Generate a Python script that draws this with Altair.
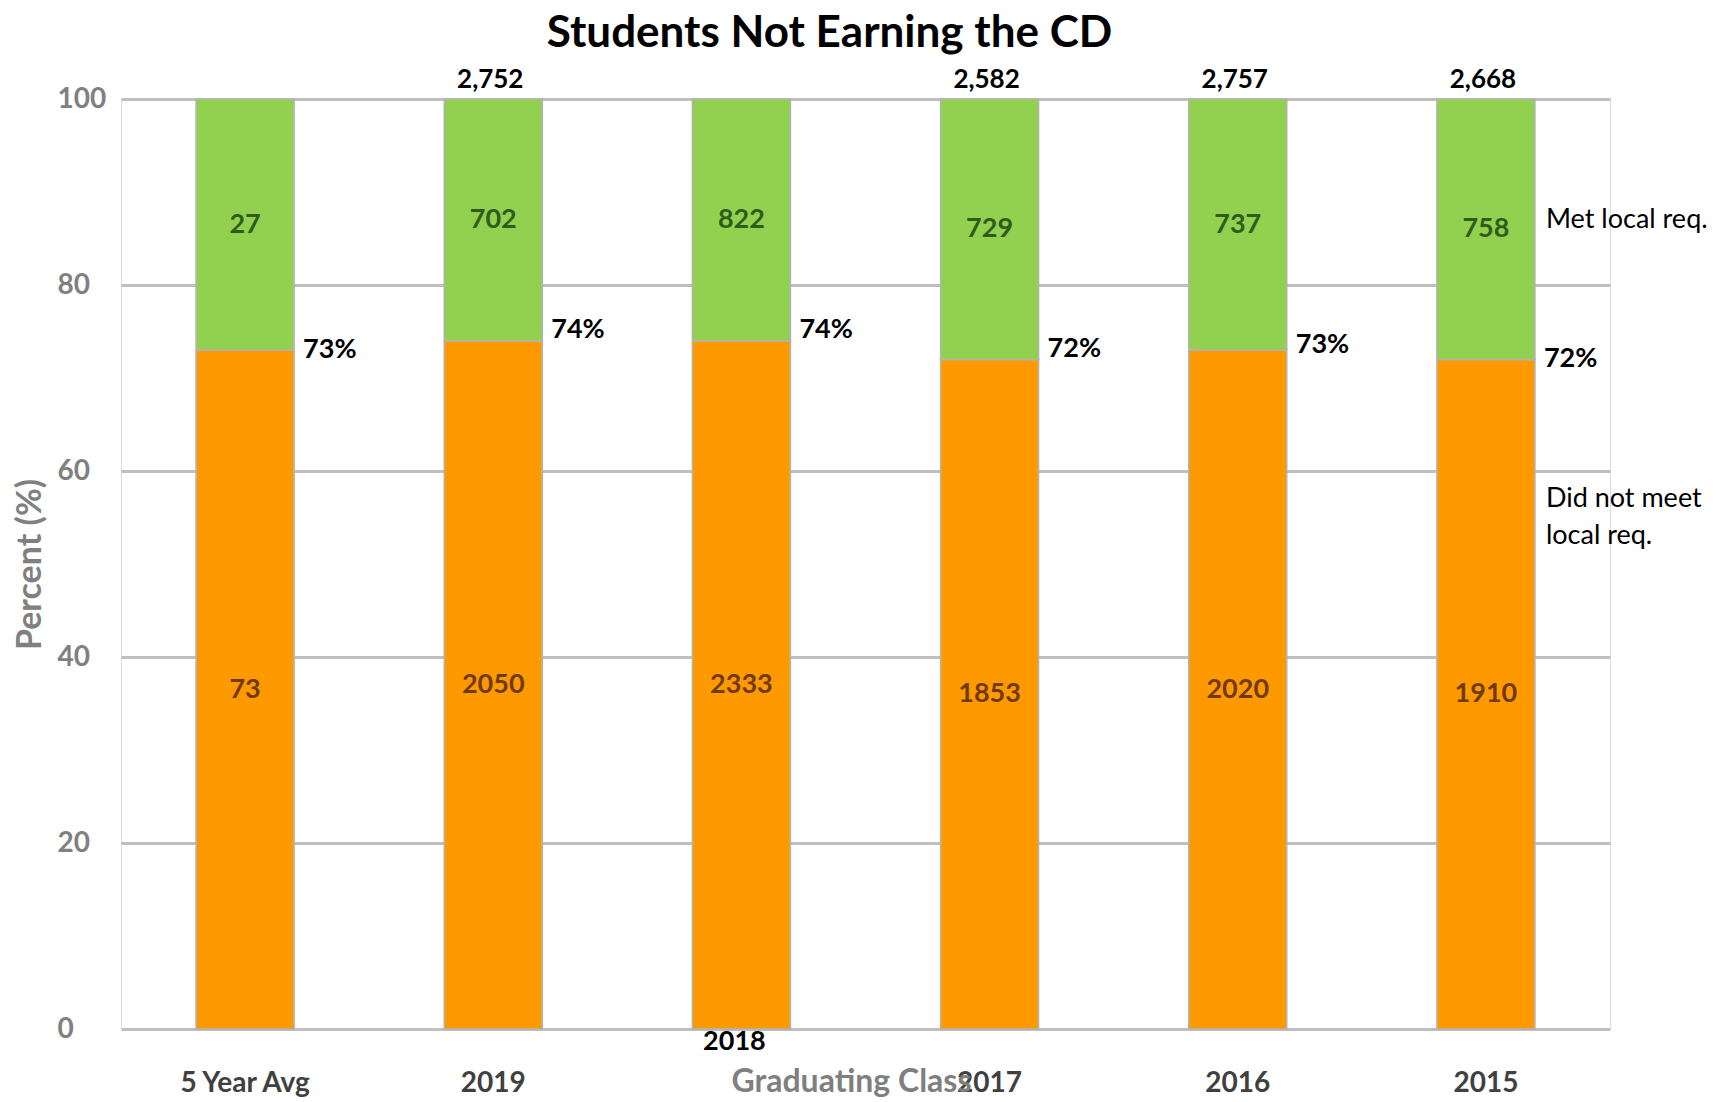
import altair as alt
import pandas as pd

# ---- data ----
categories = ["5 Year Avg", "2019", "2018", "2017", "2016", "2015"]
did_not_meet = [73, 2050, 2333, 1853, 2020, 1910]
met_local = [27, 702, 822, 729, 737, 758]
pct_not_met = [73, 74, 74, 72, 73, 72]
pct_labels = ["73%", "74%", "74%", "72%", "73%", "72%"]
pct_label_pos = [73.0, 75.2, 75.2, 73.1, 73.5, 72.0]
totals = ["", "2,752", "", "2,582", "2,757", "2,668"]
y_ticks = [0, 20, 40, 60, 80, 100]
series = ["Did not meet local req.", "Met local req."]
series_colors = ["#ff9900", "#92d050"]
legend_text = ["Met local req.", "Did not meet\nlocal req."]
legend_pos = [87.0, 57.0]

FONT = "Lato"
W, H = 1489, 930

seg_rows = []
for c, n, m, p in zip(categories, did_not_meet, met_local, pct_not_met):
    seg_rows.append({"cat": c, "seg": series[0], "y0": 0, "y1": p, "count": str(n)})
    seg_rows.append({"cat": c, "seg": series[1], "y0": p, "y1": 100, "count": str(m)})
seg_df = pd.DataFrame(seg_rows)

pct_df = pd.DataFrame({"cat": categories, "label": pct_labels, "pos": pct_label_pos})
tot_df = pd.DataFrame({"cat": categories, "total": totals, "top": [100] * len(categories)})
tot_df = tot_df[tot_df["total"] != ""]
misplaced_df = pd.DataFrame({"cat": ["2018"], "label": ["2018"], "pos": [0]})
leg_df = pd.DataFrame({"cat": ["2015", "2015"], "text": legend_text, "pos": legend_pos})

xscale = alt.Scale(domain=categories, paddingInner=0.605, paddingOuter=0.3025)
yscale = alt.Scale(domain=[0, 100], nice=False, zero=True)

xaxis = alt.Axis(
    labelExpr="datum.label == '2018' ? '' : datum.label",
    domain=False, ticks=False, tickSize=0, grid=False,
    labelAngle=0, labelPadding=54, labelBaseline="middle",
    labelFont=FONT, labelFontSize=28, labelFontWeight="bold", labelColor="#404040",
    titleFont=FONT, titleFontSize=32, titleFontWeight="bold", titleColor="#7f7f7f",
    titleX=730, titleY=52, titleBaseline="middle", titleAlign="center",
)
yaxis = alt.Axis(
    values=y_ticks, grid=True, gridColor="#bfbfbf", gridWidth=3,
    domain=False, ticks=False, tickSize=0,
    labelAlign="left", labelPadding=64, labelBaseline="middle",
    labelFont=FONT, labelFontSize=28, labelFontWeight="bold", labelColor="#808080",
    titleFont=FONT, titleFontSize=34, titleFontWeight="bold", titleColor="#808080",
    titleX=-91, titleY=H / 2, titleAngle=270, titleBaseline="middle", titleAlign="center",
)


def X():
    return alt.X("cat:N", sort=categories, scale=xscale, axis=xaxis, title="Graduating Class")


def Y(field):
    return alt.Y(field, scale=yscale, axis=yaxis, title="Percent (%)")


bars = alt.Chart(seg_df).mark_bar(stroke="#b3b3b3", strokeWidth=1.5).encode(
    x=X(),
    y=Y("y0:Q"),
    y2="y1:Q",
    color=alt.Color("seg:N", scale=alt.Scale(domain=series, range=series_colors), legend=None),
)

counts = alt.Chart(seg_df).transform_calculate(
    mid="(datum.y0 + datum.y1) / 2"
).mark_text(font=FONT, fontSize=27, fontWeight="bold", baseline="middle", align="center").encode(
    x=X(),
    y=Y("mid:Q"),
    text="count:N",
    color=alt.condition(alt.datum.seg == series[1], alt.value("#2f5c1a"), alt.value("#713a00")),
)

pcts = alt.Chart(pct_df).mark_text(
    font=FONT, fontSize=27, fontWeight="bold", align="left", baseline="middle", dx=58, color="black"
).encode(x=X(), y=Y("pos:Q"), text="label:N")

tots = alt.Chart(tot_df).mark_text(
    font=FONT, fontSize=26, fontWeight="bold", align="center", baseline="middle", dy=-19, dx=-3, color="black"
).encode(x=X(), y=Y("top:Q"), text="total:N")

misplaced = alt.Chart(misplaced_df).mark_text(
    font=FONT, fontSize=27, fontWeight="bold", align="center", baseline="middle", dy=13, dx=-7, color="black"
).encode(x=X(), y=Y("pos:Q"), text="label:N")

legend_txt = alt.Chart(leg_df).mark_text(
    font=FONT, fontSize=27, align="left", baseline="middle", dx=60, color="black",
    lineBreak="\n", lineHeight=37,
).encode(x=X(), y=Y("pos:Q"), text="text:N")

chart = alt.layer(bars, counts, pcts, tots, misplaced, legend_txt).properties(
    width=W,
    height=H,
    padding={"left": 113, "top": 91, "right": 100, "bottom": 80},
    autosize=alt.AutoSizeParams(type="none"),
    title=alt.TitleParams(
        "Students Not Earning the CD", font=FONT, fontSize=44, fontWeight="bold",
        color="black", anchor="middle", dx=-36, offset=11,
    ),
).configure_view(stroke=None).configure(background="white")

chart.save("out.html", embed_options={"renderer": "svg", "actions": False})
